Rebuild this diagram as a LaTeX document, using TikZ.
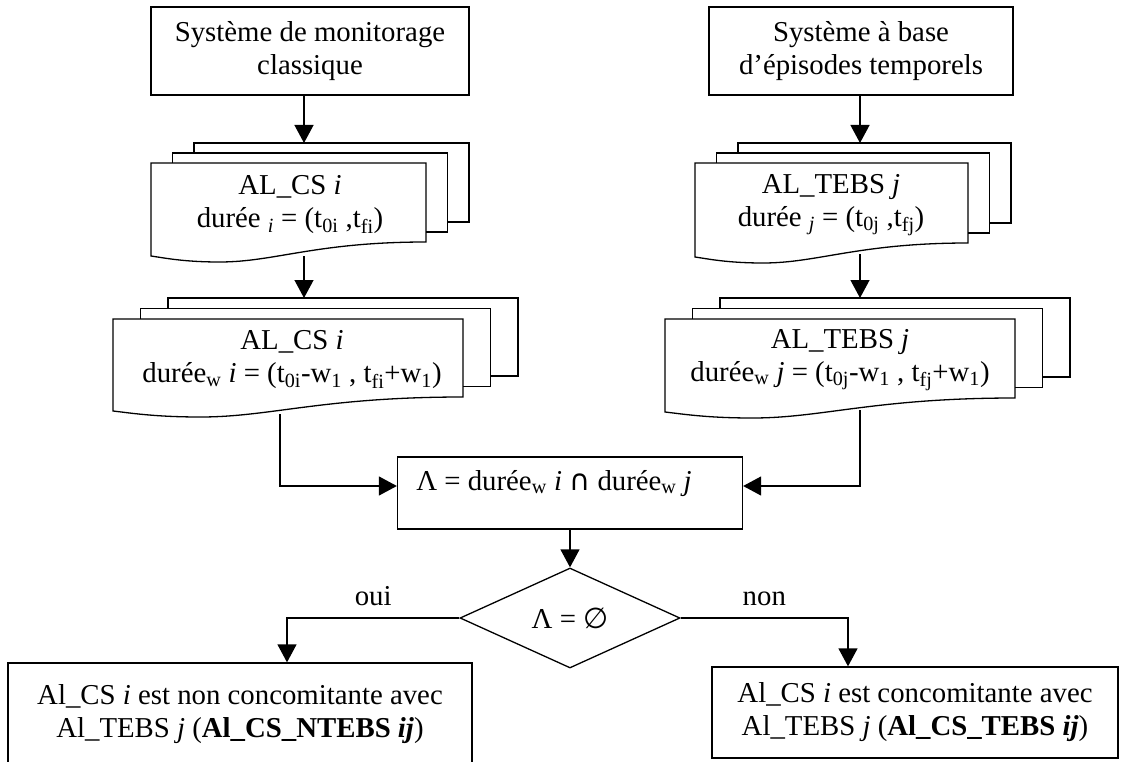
\documentclass[tikz,border=0pt]{standalone}
\usepackage{fontspec}
\setmainfont{Liberation Serif}
\newfontfamily\symbfont{DejaVu Sans}
\usetikzlibrary{arrows.meta,shapes.geometric}

% stack of three sheets: left, top, right, bottom (right corner), dx, dy
\newcommand{\docstack}[6]{%
  \pgfmathsetmacro{\docw}{#3-#1}%
  \draw ({#1+2*#5},{#2-#6}) |- ({#3+2*#5},{#2-2*#6}) |- ({#3+#5},{#4-2*#6});
  \draw ({#1+#5},#2) |- ({#3+#5},{#2-#6}) |- (#3,{#4-#6});
  \draw (#1,#2) -- (#3,#2) -- (#3,#4)
    .. controls ({#3-0.4*\docw},#4) and ({#1+0.45*\docw},{#4+20}) .. ({#1+0.25*\docw},{#4+20})
    .. controls ({#1+0.12*\docw},{#4+20}) and ({#1+0.05*\docw},{#4+16}) .. (#1,{#4+14}) -- cycle;
}

\begin{document}
\begin{tikzpicture}[x=1pt, y=-1pt, line width=1.3pt,
    every node/.style={font=\fontsize{28.8}{33}\selectfont},
    box/.style={draw, align=center, inner sep=0pt},
    doc/.style={align=center, inner sep=0pt},
    decision/.style={draw, diamond, aspect=2.2, inner sep=0pt,
                     minimum width=220pt, minimum height=100pt},
    lbl/.style={above, inner sep=12pt},
    arrow/.style={-{Triangle[length=18pt,width=19pt]}}
  ]
    \useasboundingbox (0,0) rectangle (1124,762);

    % sources
    \node[box, minimum width=318pt, minimum height=88pt] (sysCS) at (310,51) {Système de monitorage\\classique};
    \node[box, minimum width=304pt, minimum height=88pt] (sysTE) at (861,51) {Système à base\\d’épisodes temporels};

    % alarm sheets
    \docstack{151}{163}{426}{242}{21.5}{10}
    \docstack{695}{163}{968}{243}{21.5}{10}
    \docstack{113}{319}{463}{397}{27.5}{10.5}
    \docstack{665}{319}{1015}{398}{27.5}{10.5}

    \node[doc] (csA) at (290,205) {AL\_CS \textit{i}\\durée \textsubscript{\textit{i}} = (t\textsubscript{0i} ,t\textsubscript{fi})};
    \node[doc] (teA) at (831,205) {AL\_TEBS \textit{j}\\durée \textsubscript{\textit{j}} = (t\textsubscript{0j} ,t\textsubscript{fj})};
    \node[doc] (csW) at (292,360) {AL\_CS \textit{i}\\durée\textsubscript{w} \textit{i} = (t\textsubscript{0i}-w\textsubscript{1} , t\textsubscript{fi}+w\textsubscript{1})};
    \node[doc] (teW) at (840,360) {AL\_TEBS \textit{j}\\durée\textsubscript{w} \textit{j} = (t\textsubscript{0j}-w\textsubscript{1} , t\textsubscript{fj}+w\textsubscript{1})};

    \coordinate (csA-in) at (304,143);
    \coordinate (csA-out) at (304,256);
    \coordinate (csW-in) at (304,298);
    \coordinate (csW-out) at (280,414);
    \coordinate (teA-in) at (860,143);
    \coordinate (teA-out) at (860,254);
    \coordinate (teW-in) at (860,298);
    \coordinate (teW-out) at (860,410);
    \coordinate (join) at (0,486);

    % intersection and test
    \node[box, minimum width=345pt, minimum height=72pt, text depth=26pt] (lam) at (570,493)
      {Λ = durée\textsubscript{w} \textit{i} {\symbfont ∩} durée\textsubscript{w} \textit{j}\hspace*{32pt}};
    \node[decision] (dec) at (570,618) {Λ = {\symbfont ∅}};

    % results
    \node[box, minimum width=464pt, minimum height=102pt] (nonCC) at (240,714)
      {Al\_CS \textit{i} est non concomitante avec\\Al\_TEBS \textit{j} (\textbf{Al\_CS\_NTEBS \textit{ij}})};
    \node[box, minimum width=406pt, minimum height=91pt] (yesCC) at (915,712.5)
      {Al\_CS \textit{i} est concomitante avec\\Al\_TEBS \textit{j} (\textbf{Al\_CS\_TEBS \textit{ij}})};

    \draw[arrow] (sysCS.south -| csA-in) -- (csA-in);
    \draw[arrow] (csA-out) -- (csW-in);
    \draw[arrow] (csW-out) |- (lam.west |- join);
    \draw[arrow] (sysTE.south -| teA-in) -- (teA-in);
    \draw[arrow] (teA-out) -- (teW-in);
    \draw[arrow] (teW-out) |- (lam.east |- join);
    \draw[arrow] (lam) -- (dec);
    \draw[arrow] (dec.west) -| node[lbl, pos=0.25] {oui} ([xshift=47pt]nonCC.north);
    \draw[arrow] (dec.east) -| node[lbl, pos=0.25] {non} ([xshift=-67pt]yesCC.north);
  \end{tikzpicture}
\end{document}
